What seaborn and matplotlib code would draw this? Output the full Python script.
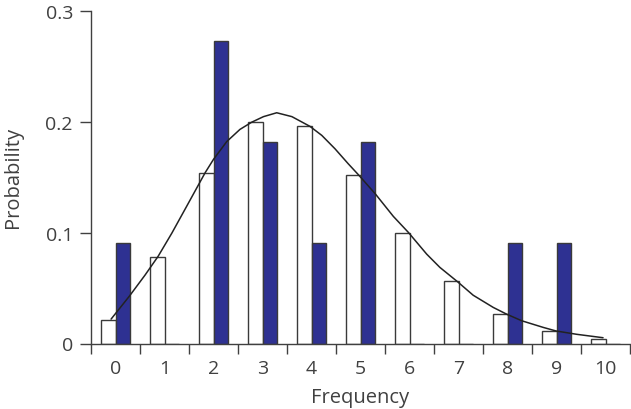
import numpy as np
import pandas as pd
import seaborn as sns
import matplotlib
matplotlib.use("Agg")
import matplotlib.pyplot as plt

# ---- data ----
frequency = [0, 1, 2, 3, 4, 5, 6, 7, 8, 9, 10]
expected = [0.021, 0.078, 0.154, 0.200, 0.196, 0.152, 0.100, 0.056, 0.027, 0.011, 0.0045]
observed = [0.091, 0.0, 0.273, 0.182, 0.091, 0.182, 0.0, 0.0, 0.091, 0.091, 0.0]

curve_x = [-0.09, 0.28, 0.6, 0.87, 1.15, 1.45, 1.83, 2.0, 2.27, 2.54, 2.78, 3.02, 3.29,
           3.6, 3.97, 4.21, 4.48, 4.75, 4.96, 5.3, 5.67, 5.98, 6.35, 6.62, 6.98, 7.3,
           7.71, 7.98, 8.29, 8.73, 8.99, 9.41, 9.95]
curve_y = [0.022, 0.0425, 0.0615, 0.0786, 0.0995, 0.1235, 0.154, 0.166, 0.182, 0.193, 0.1995,
           0.2045, 0.208, 0.2045, 0.1957, 0.1876, 0.1755, 0.162, 0.152, 0.135, 0.1146,
           0.100, 0.0806, 0.0686, 0.0557, 0.0435, 0.0325, 0.0265, 0.0205, 0.0145, 0.0113,
           0.0083, 0.0052]

series_names = ["Expected", "Observed"]

df = pd.DataFrame({
    "Frequency": frequency * 2,
    "Probability": expected + observed,
    "series": [series_names[0]] * len(frequency) + [series_names[1]] * len(frequency),
})
curve = pd.DataFrame({"x": curve_x, "y": curve_y})

sns.set_theme(style="white")
plt.rcParams["font.family"] = ["Open Sans", "DejaVu Sans"]

text_color = "#404040"
fs = 14
fig = plt.figure(figsize=(6.31, 4.10), dpi=100)
ax = fig.add_axes([91 / 631, (410 - 344.5) / 410, (630 - 91) / 631, (344.5 - 11.7) / 410])

sns.barplot(data=df, x="Frequency", y="Probability", hue="series",
            palette={"Expected": "white", "Observed": "#2e3192"}, saturation=1,
            width=0.6, gap=0, edgecolor="#3a3a3a", linewidth=1.0,
            legend=False, ax=ax, zorder=2)
sns.lineplot(data=curve, x="x", y="y", color="#222222", linewidth=1.1, ax=ax, zorder=3)
for ln in ax.lines:
    ln.set_solid_joinstyle("round")

ax.set_xlim(-0.5, 10.5)
ax.set_ylim(0, 0.3)
ax.set_xticks(range(len(frequency)))
ax.set_xticklabels([str(f) for f in frequency])
ax.set_xticks(np.arange(-0.5, 10.6, 1.0), minor=True)
ax.set_yticks([0, 0.1, 0.2, 0.3])
ax.set_yticklabels(["0", "0.1", "0.2", "0.3"])

ax.tick_params(axis="x", which="major", length=0, pad=11, labelsize=fs, labelcolor=text_color)
ax.tick_params(axis="x", which="minor", length=7, width=1, color=text_color, direction="out",
               bottom=True)
ax.tick_params(axis="y", which="major", length=8, width=1, color=text_color, direction="out",
               left=True, pad=5, labelsize=fs, labelcolor=text_color)

for side in ["top", "right"]:
    ax.spines[side].set_visible(False)
for side in ["left", "bottom"]:
    ax.spines[side].set_color(text_color)
    ax.spines[side].set_linewidth(1.0)

ax.set_xlabel("Frequency", fontsize=fs + 0.5, color=text_color)
ax.set_ylabel("Probability", fontsize=fs + 0.5, color=text_color)
ax.xaxis.set_label_coords((360 - 91) / (630 - 91), -(398 - 344.5) / (344.5 - 11.7))
ax.yaxis.set_label_coords(-(91 - 13) / (630 - 91), (344.5 - 177) / (344.5 - 11.7))
ax.xaxis.label.set_va("center")
ax.yaxis.label.set_va("center")

fig.savefig("out.png", dpi=100)
